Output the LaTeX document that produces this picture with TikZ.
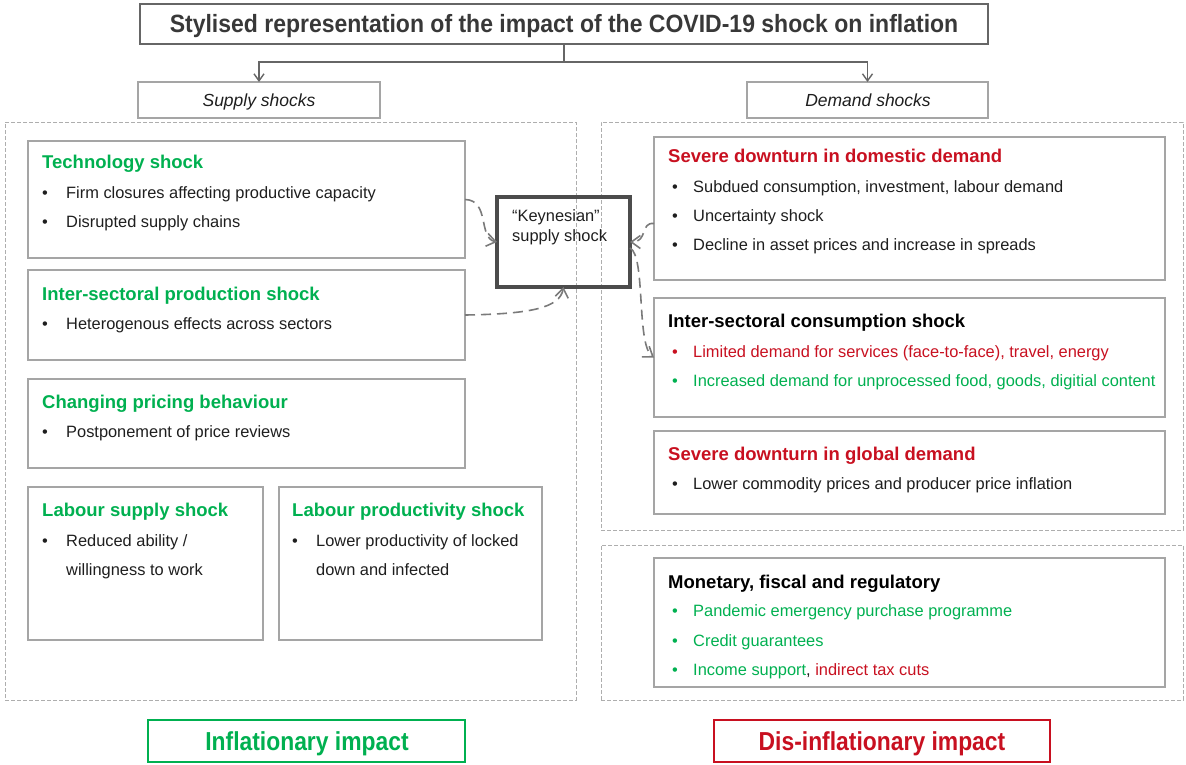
\documentclass[tikz,border=0pt]{standalone}
\usepackage{fontspec}
\setmainfont{Liberation Sans}
\usetikzlibrary{arrows.meta}
\definecolor{mygreen}{RGB}{0,176,80}
\definecolor{myred}{RGB}{200,16,32}
\definecolor{boxgray}{RGB}{165,165,165}
\definecolor{txtgray}{RGB}{30,30,30}
\tikzset{
  box/.style={draw=boxgray, line width=1.1pt, rectangle, inner sep=0pt, outer sep=0pt, anchor=north west},
  outer/.style={draw=boxgray!90, line width=1pt, dash pattern=on 4pt off 2pt, rectangle, inner sep=0pt, outer sep=0pt, anchor=north west},
  keybox/.style={draw=black!70, line width=3.4pt, rectangle, inner sep=0pt, outer sep=0pt, anchor=north west},
  hd/.style={font=\fontsize{18.5}{21}\selectfont\bfseries, anchor=base west, inner sep=0pt},
  bl/.style={font=\fontsize{16.4}{19}\selectfont, text=txtgray, anchor=base west, inner sep=0pt},
  sh/.style={font=\fontsize{17.5}{20}\selectfont\itshape, text=txtgray, inner sep=0pt, anchor=base},
  imp/.style={font=\fontsize{26}{28}\selectfont\bfseries, inner sep=0pt, anchor=base},
  conn/.style={draw=black!60, line width=1.4pt, -{Straight Barb[length=7pt,width=10pt]}},
  darr/.style={draw=black!52, line width=1.6pt, dash pattern=on 10pt off 6pt, -{Straight Barb[length=9pt,width=13pt]}},
}
\newcommand{\bul}[1]{\makebox[24pt][l]{\textbullet}#1}
\newcommand{\rbul}[1]{\makebox[21pt][l]{\textbullet}#1}
\begin{document}
\begin{tikzpicture}[x=1pt,y=-1pt]
\useasboundingbox (0,0) rectangle (1186,764);
% title
\node[box, draw=black!60, line width=2pt, minimum width=848pt, minimum height=40pt] (title) at (140,4) {};
\node[font=\fontsize{25}{28}\selectfont\bfseries, text=black!78, inner sep=0pt, anchor=base] (titlet) at (564,32) {\scalebox{0.92}[1]{Stylised representation of the impact of the COVID-19 shock on inflation}};
\node[box, minimum width=242pt, minimum height=36pt] (sup) at (138,82) {};
\node[sh] (supt) at (259,106) {Supply shocks};
\node[box, minimum width=241pt, minimum height=36pt] (dem) at (747,82) {};
\node[sh] (demt) at (868,106) {Demand shocks};
\path (title.south) ++(0,18) coordinate (split);
\draw[conn] (title.south) -- (split) -| (sup.north);
\draw[conn] (split) -| (dem.north);
% outer dashed
\node[outer, minimum width=571pt, minimum height=578pt] (left) at (5,122) {};
\node[outer, minimum width=582pt, minimum height=408pt] (rtop) at (601,122) {};
\node[outer, minimum width=582pt, minimum height=155pt] (rbot) at (601,545) {};
% left boxes
\node[box, minimum width=437pt, minimum height=117pt] (tech) at (28,141) {};
\node[hd, text=mygreen] (techh) at (42,168) {Technology shock};
\node[bl] (tech1) at (42,198) {\bul{Firm closures affecting productive capacity}};
\node[bl] (tech2) at (42,227) {\bul{Disrupted supply chains}};
\node[box, minimum width=437pt, minimum height=90pt] (prod) at (28,270) {};
\node[hd, text=mygreen] (prodh) at (42,300) {Inter-sectoral production shock};
\node[bl] (prod1) at (42,329) {\bul{Heterogenous effects across sectors}};
\node[box, minimum width=437pt, minimum height=89pt] (price) at (28,379) {};
\node[hd, text=mygreen] (priceh) at (42,408) {Changing pricing behaviour};
\node[bl] (price1) at (42,437) {\bul{Postponement of price reviews}};
\node[box, minimum width=235pt, minimum height=153pt] (lsup) at (28,487) {};
\node[hd, text=mygreen] (lsuph) at (42,516) {Labour supply shock};
\node[bl] (lsup1) at (42,546) {\bul{Reduced ability /}};
\node[bl] (lsup2) at (66,575) {willingness to work};
\node[box, minimum width=263pt, minimum height=153pt] (lprod) at (279,487) {};
\node[hd, text=mygreen] (lprodh) at (292,516) {Labour productivity shock};
\node[bl] (lprod1) at (292,546) {\bul{Lower productivity of locked}};
\node[bl] (lprod2) at (316,575) {down and infected};
% Keynesian
\node[keybox, minimum width=133pt, minimum height=90pt] (key) at (497,197) {};
\node[bl] (key1) at (512,221) {“Keynesian”};
\node[bl] (key2) at (512,241) {supply shock};
% right boxes
\node[box, minimum width=511pt, minimum height=143pt] (dom) at (654,137) {};
\node[hd, text=myred] (domh) at (668,162) {Severe downturn in domestic demand};
\node[bl] (dom1) at (672,192) {\rbul{Subdued consumption, investment, labour demand}};
\node[bl] (dom2) at (672,221) {\rbul{Uncertainty shock}};
\node[bl] (dom3) at (672,250) {\rbul{Decline in asset prices and increase in spreads}};
\node[box, minimum width=511pt, minimum height=119pt] (cons) at (654,298) {};
\node[hd, text=black] (consh) at (668,327) {Inter-sectoral consumption shock};
\node[bl, text=myred] (cons1) at (672,357) {\rbul{Limited demand for services (face-to-face), travel, energy}};
\node[bl, text=mygreen] (cons2) at (672,386) {\rbul{Increased demand for unprocessed food, goods, digitial content}};
\node[box, minimum width=511pt, minimum height=83pt] (glob) at (654,431) {};
\node[hd, text=myred] (globh) at (668,460) {Severe downturn in global demand};
\node[bl] (glob1) at (672,489) {\rbul{Lower commodity prices and producer price inflation}};
\node[box, minimum width=511pt, minimum height=129pt] (mon) at (654,558) {};
\node[hd, text=black] (monh) at (668,588) {Monetary, fiscal and regulatory};
\node[bl, text=mygreen] (mon1) at (672,616) {\rbul{Pandemic emergency purchase programme}};
\node[bl, text=mygreen] (mon2) at (672,646) {\rbul{Credit guarantees}};
\node[bl, text=mygreen] (mon3) at (672,675) {\rbul{Income support\textcolor{txtgray}{,} \textcolor{myred}{indirect tax cuts}}};
% impact boxes
\node[box, draw=mygreen, line width=1.6pt, minimum width=317pt, minimum height=42pt] (infl) at (148,720) {};
\node[imp, text=mygreen] (inflt) at (307,750) {\scalebox{0.88}[1]{Inflationary impact}};
\node[box, draw=myred, line width=1.6pt, minimum width=336pt, minimum height=42pt] (disinfl) at (714,720) {};
\node[imp, text=myred] (disinflt) at (882,750) {\scalebox{0.88}[1]{Dis-inflationary impact}};
% dashed arrows
\draw[darr] (tech.east) .. controls (490,200) and (478,238) .. (key.west);
\draw[darr] (prod.east) .. controls (530,314) and (560,308) .. (key.south);
\draw[darr] ([yshift=-15pt]dom.west) .. controls (640,222) and (648,242) .. (key.east);
\draw[darr] ([yshift=-6pt]key.east) .. controls (646,256) and (636,345) .. (cons.west);
\end{tikzpicture}
\end{document}
